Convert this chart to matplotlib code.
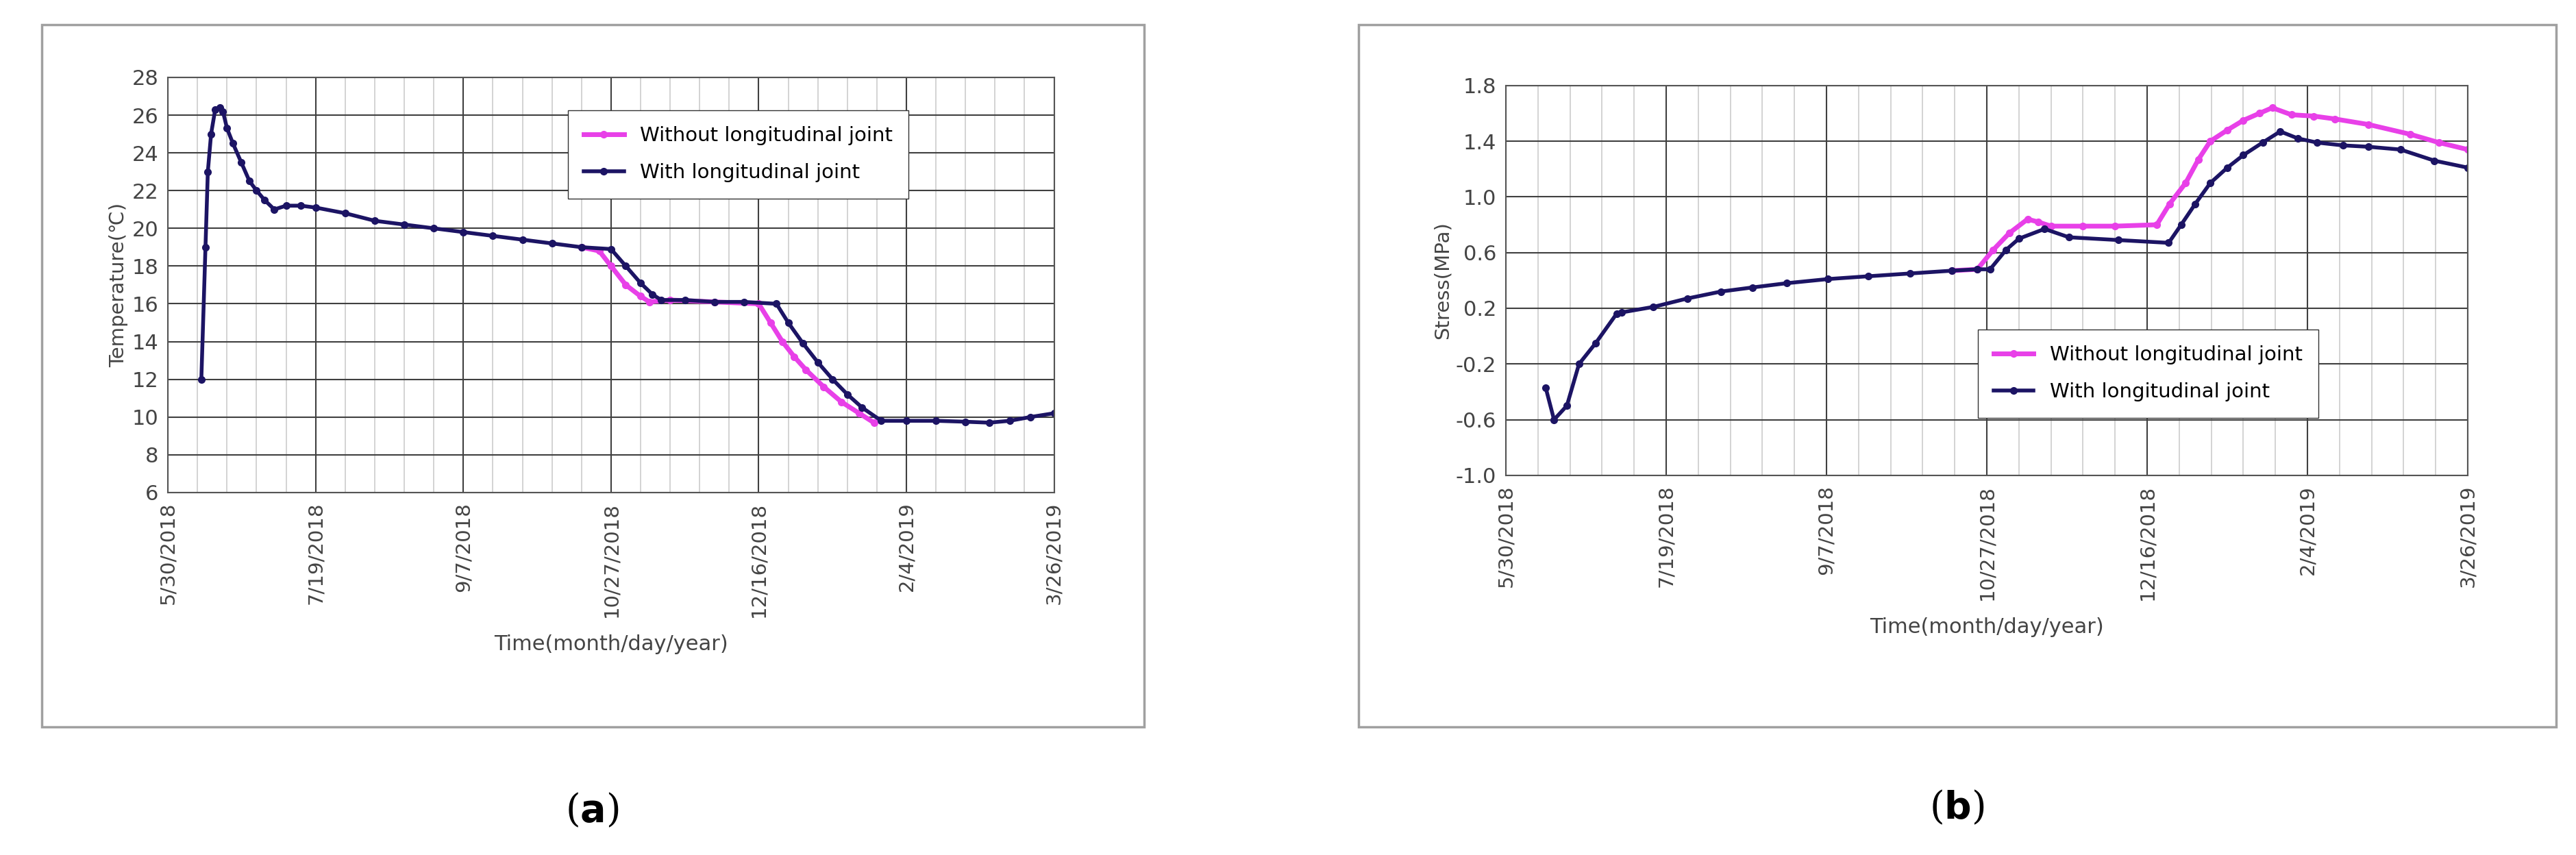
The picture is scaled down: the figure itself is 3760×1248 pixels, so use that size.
import matplotlib.pyplot as plt
from matplotlib.patches import Rectangle
import numpy as np

# days since 5/30/2018
tick_days = [0, 50, 100, 150, 200, 250, 300]
tick_labels = ['5/30/2018', '7/19/2018', '9/7/2018', '10/27/2018', '12/16/2018', '2/4/2019', '3/26/2019']

# (a) temperature
temp_with_d = [11.3, 12.7, 13.5, 14.6, 16, 17.5, 18.6, 20, 22, 24.8, 27.6, 30, 32.7, 36, 40, 45, 50, 60, 70, 80, 90, 100, 110, 120, 130, 140, 150,
               155, 160, 164, 167, 175, 185, 195, 206, 210, 215, 220, 225, 230, 235, 241.5, 250, 260, 270, 278, 285, 292, 300]
temp_with_v = [12.0, 19.0, 23.0, 25.0, 26.3, 26.4, 26.2, 25.3, 24.5, 23.5, 22.5, 22.0, 21.5, 21.0, 21.2, 21.2, 21.1, 20.8, 20.4, 20.2, 20.0, 19.8, 19.6, 19.4, 19.2, 19.0, 18.9,
               18.0, 17.1, 16.5, 16.2, 16.2, 16.1, 16.1, 16.0, 15.0, 13.9, 12.9, 12.0, 11.2, 10.5, 9.8, 9.8, 9.8, 9.75, 9.7, 9.8, 10.0, 10.2]
temp_wo_d = [140, 146, 150, 155, 160, 163, 170, 185, 200, 204, 208, 212, 216, 222, 228, 234, 239]
temp_wo_v = [19.0, 18.8, 18.0, 17.0, 16.4, 16.1, 16.2, 16.1, 16.0, 15.0, 14.0, 13.2, 12.5, 11.6, 10.8, 10.2, 9.7]

# (b) stress
str_with_d = [12.4, 15, 19, 22.8, 28, 34.5, 36, 46, 56.5, 67, 77, 87.5, 100.5, 113, 126, 139, 147, 151, 156, 160, 168, 175.6, 191, 206.7,
              210.6, 215, 219.7, 225, 230, 236, 241.5, 247, 253, 261, 269, 279, 289.6, 300]
str_with_v = [-0.37, -0.60, -0.50, -0.20, -0.05, 0.16, 0.17, 0.21, 0.27, 0.32, 0.35, 0.38, 0.41, 0.43, 0.45, 0.47, 0.48, 0.48, 0.62, 0.70, 0.77, 0.71, 0.69, 0.67,
              0.80, 0.95, 1.10, 1.21, 1.30, 1.39, 1.47, 1.42, 1.39, 1.37, 1.36, 1.34, 1.26, 1.21]
str_wo_d = [139, 147, 152, 157, 162.7, 166, 170, 180, 190, 203, 207, 212, 216, 219.7, 225, 230, 235, 239, 245, 252, 258.5, 269, 282, 291, 300]
str_wo_v = [0.47, 0.48, 0.62, 0.74, 0.84, 0.82, 0.79, 0.79, 0.79, 0.80, 0.95, 1.10, 1.27, 1.40, 1.48, 1.55, 1.60, 1.64, 1.59, 1.58, 1.56, 1.52, 1.45, 1.39, 1.34]

pink = '#e840e8'
navy = '#1c1464'
font = 'DejaVu Sans'

fig = plt.figure(figsize=(37.6, 12.48), dpi=100)
for x0, w in [(0.0162, 0.428), (0.5274, 0.465)]:
    fig.patches.append(Rectangle((x0, 0.150), w, 0.821, transform=fig.transFigure,
                                 fill=False, edgecolor='#a0a0a0', linewidth=2.5))


def style(ax, yticks, ylabels, ylabel):
    ax.set_xlim(0, 300)
    ax.set_xticks(tick_days)
    ax.set_xticklabels(tick_labels, rotation=90, fontsize=21, color='#444444', family=font)
    ax.set_xticks(np.arange(0, 301, 10), minor=True)
    ax.set_yticks(yticks)
    ax.set_yticklabels(ylabels, fontsize=22, color='#444444', family=font)
    ax.set_ylim(yticks[0], yticks[-1])
    ax.grid(True, which='major', color='#404040', linewidth=1.5)
    ax.grid(True, which='minor', axis='x', color='#cccccc', linewidth=1.2)
    ax.tick_params(which='both', length=0, pad=10)
    ax.set_axisbelow(True)
    for s in ax.spines.values():
        s.set_color('#555555')
        s.set_linewidth(1.5)
    ax.set_ylabel(ylabel, fontsize=21, color='#444444', family=font)
    ax.set_xlabel('Time(month/day/year)', fontsize=22, color='#444444', family=font, labelpad=18)


ax1 = fig.add_axes([0.0652, 0.424, 0.344, 0.4855])
ax1.plot(temp_wo_d, temp_wo_v, color=pink, marker='o', markersize=7, linewidth=5, label='Without longitudinal joint')
ax1.plot(temp_with_d, temp_with_v, color=navy, marker='o', markersize=7, linewidth=4, label='With longitudinal joint')
style(ax1, list(range(6, 29, 2)), [str(v) for v in range(6, 29, 2)], 'Temperature(℃)')
ax1.legend(loc='upper left', bbox_to_anchor=(0.44, 0.945), fancybox=False,
           edgecolor='#333333', framealpha=1, handlelength=2, borderpad=0.8, labelspacing=0.9,
           prop={'family': font, 'size': 21})

ax2 = fig.add_axes([0.5846, 0.444, 0.3734, 0.456])
ax2.plot(str_wo_d, str_wo_v, color=pink, marker='o', markersize=7, linewidth=5, label='Without longitudinal joint')
ax2.plot(str_with_d, str_with_v, color=navy, marker='o', markersize=7, linewidth=4, label='With longitudinal joint')
yt = [-1.0, -0.6, -0.2, 0.2, 0.6, 1.0, 1.4, 1.8]
style(ax2, yt, ['%.1f' % v for v in yt], 'Stress(MPa)')
ax2.legend(loc='upper left', bbox_to_anchor=(0.48, 0.40), fancybox=False,
           edgecolor='#333333', framealpha=1, handlelength=2, borderpad=0.8, labelspacing=0.9,
           prop={'family': font, 'size': 21})

fig.text(0.2298, 0.052, r'($\mathbf{a}$)', fontsize=40, family='DejaVu Serif', ha='center', va='center')
fig.text(0.7596, 0.055, r'($\mathbf{b}$)', fontsize=40, family='DejaVu Serif', ha='center', va='center')

fig.savefig('out.png', dpi=100, facecolor='white')
